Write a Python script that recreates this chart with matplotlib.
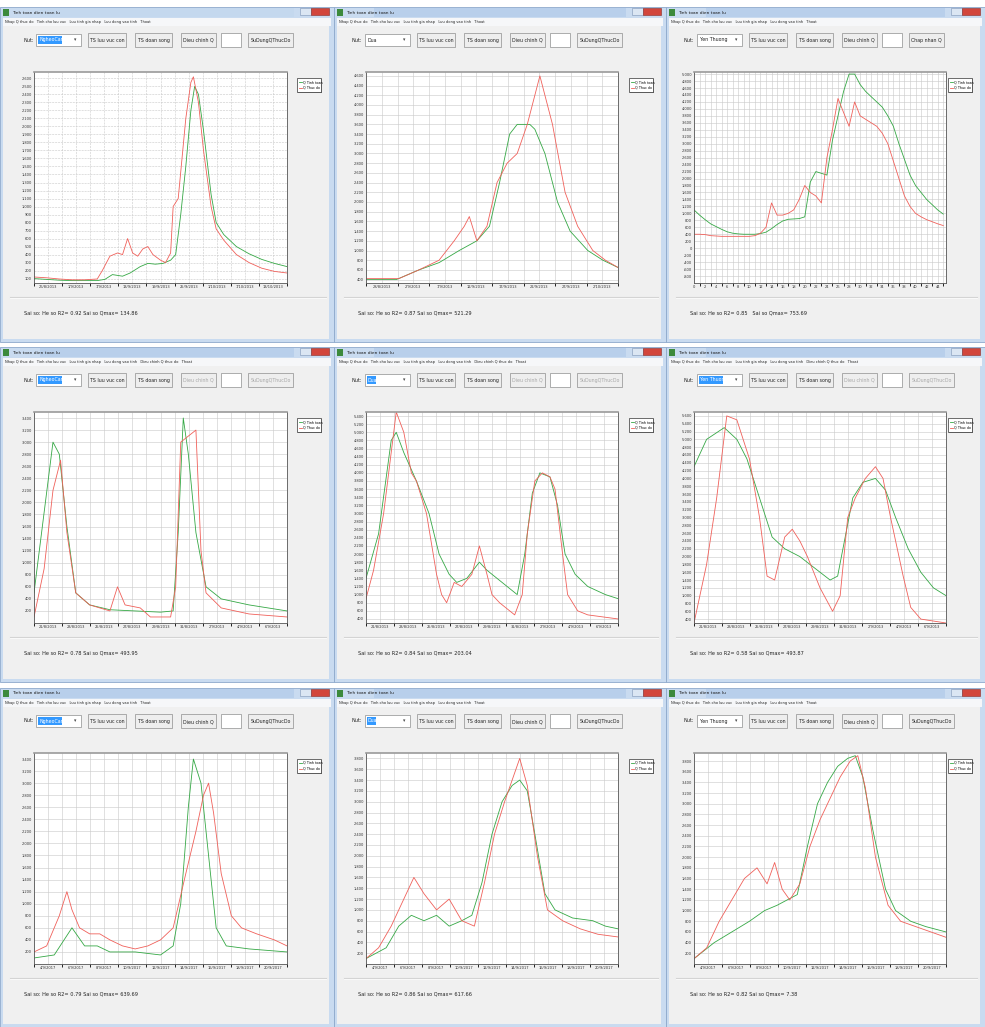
import matplotlib
matplotlib.use("Agg")
import matplotlib.pyplot as plt
from matplotlib.patches import Rectangle

W, H = 985, 1027

# ---- data: (t in % of record, Q) ----
p1_t_red = [0, 5, 10, 15, 20, 25, 27, 30, 33, 35, 37, 39, 41, 43, 45, 47, 50, 52, 54, 55, 57, 60, 62, 63, 65, 67, 70, 72, 75, 80, 85, 90, 95, 100]
p1_red = [120, 110, 95, 85, 85, 95, 200, 380, 420, 400, 600, 420, 380, 470, 500, 400, 330, 300, 420, 1000, 1100, 2100, 2550, 2620, 2300, 1700, 1000, 720, 580, 400, 300, 230, 190, 170]
p1_t_green = [0, 5, 10, 15, 20, 25, 28, 31, 35, 38, 42, 45, 48, 51, 54, 56, 58, 60, 62, 63.5, 65, 67, 70, 72, 75, 80, 85, 90, 95, 100]
p1_green = [100, 90, 80, 75, 75, 75, 90, 150, 130, 170, 250, 290, 280, 290, 330, 400, 900, 1500, 2200, 2500, 2400, 1950, 1150, 800, 650, 500, 410, 340, 290, 250]

p2_t_red = [0, 13, 21, 29, 35, 39, 41, 44, 48, 52, 56, 60, 64, 69, 74, 79, 84, 90, 95, 100]
p2_red = [420, 420, 600, 800, 1200, 1500, 1700, 1200, 1500, 2400, 2800, 3000, 3600, 4600, 3600, 2200, 1500, 1000, 800, 650]
p2_t_green = [0, 12, 21, 29, 37, 44, 49, 53, 57, 60, 65, 67, 71, 76, 81, 88, 94, 100]
p2_green = [400, 400, 600, 750, 1000, 1200, 1500, 2400, 3400, 3600, 3600, 3500, 3000, 2000, 1400, 1000, 800, 650]

p3_x = list(range(46))
p3_green = [1100, 950, 820, 700, 620, 540, 470, 430, 410, 400, 400, 400, 420, 460, 560, 680, 780, 830, 840, 850, 900, 1900,
            2200, 2150, 2100, 3100, 3800, 4500, 5000, 5000, 4700, 4500, 4350, 4200, 4050, 3800, 3500, 3000, 2550, 2100,
            1800, 1600, 1400, 1250, 1100, 980]
p3_red = [400, 400, 390, 360, 350, 340, 340, 340, 340, 340, 340, 360, 430, 600, 1300, 950, 950, 1000, 1100, 1400, 1800,
          1600, 1500, 1300, 2600, 3400, 4300, 3900, 3500, 4200, 3800, 3700, 3600, 3500, 3300, 3000, 2500, 2000, 1500,
          1200, 1000, 900, 820, 760, 700, 650]

p4_t_red = [0, 4, 7.5, 10.5, 13, 16.5, 22, 30, 33, 36, 42, 46, 54, 56, 58, 61, 64, 66, 68, 74, 85, 100]
p4_red = [100, 900, 2200, 2700, 1500, 500, 300, 200, 600, 300, 250, 100, 100, 600, 3000, 3100, 3200, 1200, 500, 250, 150, 100]
p4_t_green = [0, 3, 7.5, 10, 13, 16.5, 22, 30, 40, 50, 55, 57, 59, 61, 64, 68, 74, 85, 100]
p4_green = [500, 1500, 3000, 2800, 1600, 500, 300, 220, 200, 180, 200, 1500, 3400, 2800, 1500, 600, 400, 300, 200]

p5_t_red = [0, 3, 7, 12, 15, 18, 20, 24, 28, 30, 32, 35, 38, 42, 45, 48, 50, 53, 57, 59, 62, 64, 67, 70, 73, 75, 78, 80, 84, 88, 100]
p5_red = [900, 1600, 3000, 5500, 5000, 4000, 3800, 3000, 1500, 1000, 800, 1300, 1200, 1500, 2200, 1500, 1000, 800, 600, 500, 1000, 2500, 3800, 4000, 3900, 3600, 2000, 1000, 600, 500, 400]
p5_t_green = [0, 5, 10, 12, 15, 20, 25, 29, 33, 36, 40, 45, 48, 52, 56, 60, 63, 66, 69, 73, 76, 79, 83, 88, 95, 100]
p5_green = [1400, 2500, 4800, 5000, 4500, 3800, 3000, 2000, 1500, 1300, 1400, 1800, 1600, 1400, 1200, 1000, 2000, 3500, 4000, 3900, 3200, 2000, 1500, 1200, 1000, 900]

p6_t_red = [0, 5, 9, 13, 17, 22, 26, 29, 32, 36, 39, 42, 45, 50, 55, 58, 61, 64, 68, 72, 75, 78, 83, 86, 90, 100]
p6_red = [300, 1800, 3500, 5600, 5500, 4500, 3000, 1500, 1400, 2500, 2700, 2400, 2000, 1200, 600, 1000, 3000, 3500, 4000, 4300, 4000, 3000, 1500, 700, 400, 300]
p6_t_green = [0, 5, 12, 17, 21, 26, 31, 36, 42, 48, 54, 57, 60, 63, 67, 72, 76, 80, 85, 90, 95, 100]
p6_green = [4300, 5000, 5300, 5000, 4500, 3500, 2500, 2200, 2000, 1700, 1400, 1500, 2500, 3500, 3900, 4000, 3700, 3000, 2200, 1600, 1200, 1000]

p7_t_red = [0, 5, 10, 13, 15, 18, 22, 26, 30, 35, 40, 45, 50, 55, 60, 64, 67, 69, 71, 74, 78, 82, 88, 95, 100]
p7_red = [200, 300, 800, 1200, 900, 600, 500, 500, 400, 300, 250, 300, 400, 600, 1500, 2200, 2800, 3000, 2500, 1500, 800, 600, 500, 400, 300]
p7_t_green = [0, 8, 15, 20, 25, 30, 40, 50, 55, 58, 61, 63, 66, 69, 72, 76, 85, 100]
p7_green = [100, 150, 600, 300, 300, 200, 200, 150, 300, 1000, 2600, 3400, 3000, 1800, 600, 300, 250, 200]

p8_t_red = [0, 5, 10, 15, 19, 23, 28, 33, 38, 43, 47, 51, 55, 58, 61, 64, 68, 72, 78, 85, 92, 100]
p8_red = [100, 300, 700, 1200, 1600, 1300, 1000, 1200, 800, 700, 1500, 2400, 3000, 3400, 3800, 3300, 2000, 1000, 800, 650, 550, 500]
p8_t_green = [0, 8, 13, 18, 23, 28, 33, 38, 42, 46, 50, 54, 58, 61, 64, 67, 71, 75, 82, 90, 95, 100]
p8_green = [100, 300, 700, 900, 800, 900, 700, 800, 900, 1500, 2400, 3000, 3300, 3400, 3200, 2400, 1300, 1000, 850, 800, 700, 650]

p9_t_red = [0, 5, 10, 15, 20, 25, 29, 32, 35, 38, 42, 46, 50, 54, 58, 62, 65, 68, 72, 77, 82, 88, 94, 100]
p9_red = [100, 300, 800, 1200, 1600, 1800, 1500, 1900, 1400, 1200, 1500, 2200, 2700, 3100, 3500, 3800, 3900, 3300, 2000, 1100, 800, 700, 600, 500]
p9_t_green = [0, 8, 15, 22, 28, 33, 37, 41, 45, 49, 53, 57, 61, 64, 67, 71, 76, 80, 86, 92, 100]
p9_green = [100, 400, 600, 800, 1000, 1100, 1200, 1300, 2200, 3000, 3400, 3700, 3850, 3900, 3500, 2500, 1400, 1000, 800, 700, 600]

date_labels = [
    ["26/8/2013", "1/9/2013", "7/9/2013", "13/9/2013", "19/9/2013", "25/9/2013", "1/10/2013", "7/10/2013", "13/10/2013"],
    ["28/8/2013", "2/9/2013", "7/9/2013", "12/9/2013", "17/9/2013", "22/9/2013", "27/9/2013", "2/10/2013"],
    None,
    ["21/8/2013", "23/8/2013", "25/8/2013", "27/8/2013", "29/8/2013", "31/8/2013", "2/9/2013", "4/9/2013", "6/9/2013"],
    ["21/8/2013", "23/8/2013", "25/8/2013", "27/8/2013", "29/8/2013", "31/8/2013", "2/9/2013", "4/9/2013", "6/9/2013"],
    ["21/8/2013", "23/8/2013", "25/8/2013", "27/8/2013", "29/8/2013", "31/8/2013", "2/9/2013", "4/9/2013", "6/9/2013"],
    ["4/9/2017", "6/9/2017", "8/9/2017", "10/9/2017", "12/9/2017", "14/9/2017", "16/9/2017", "18/9/2017", "20/9/2017"],
    ["4/9/2017", "6/9/2017", "8/9/2017", "10/9/2017", "12/9/2017", "14/9/2017", "16/9/2017", "18/9/2017", "20/9/2017"],
    ["4/9/2017", "6/9/2017", "8/9/2017", "10/9/2017", "12/9/2017", "14/9/2017", "16/9/2017", "18/9/2017", "20/9/2017"],
]
stations = ["NgheoCanh", "Dua", "Yen Thuong", "NgheoCanh", "Dua", "Yen Thuong", "NgheoCanh", "Dua", "Yen Thuong"]
r2 = ["0.92", "0.87", "0.85", "0.78", "0.84", "0.58", "0.79", "0.86", "0.82"]
qmax_err = ["134.86", "521.29", "753.69", "493.95", "203.04", "493.87", "639.69", "617.66", "7.38"]
# y axis: (min, max, tick step, first tick, last tick)
yaxes = [(45, 2680, 100, 100, 2600), (330, 4680, 200, 400, 4600), (-1000, 5060, 200, -800, 5000),
         (0, 3500, 200, 200, 3400), (300, 5500, 200, 400, 5400), (300, 5700, 200, 400, 5600),
         (0, 3500, 200, 200, 3400), (0, 3900, 200, 200, 3800), (0, 3950, 200, 200, 3800)]

series = [(p1_t_red, p1_red, p1_t_green, p1_green), (p2_t_red, p2_red, p2_t_green, p2_green),
          (p3_x, p3_red, p3_x, p3_green), (p4_t_red, p4_red, p4_t_green, p4_green),
          (p5_t_red, p5_red, p5_t_green, p5_green), (p6_t_red, p6_red, p6_t_green, p6_green),
          (p7_t_red, p7_red, p7_t_green, p7_green), (p8_t_red, p8_red, p8_t_green, p8_green),
          (p9_t_red, p9_red, p9_t_green, p9_green)]

RED = "#f0605a"
GREEN = "#35a845"
FONT = "DejaVu Sans"

col_x = [0, 334, 666]
col_w = [334, 332, 319]
row_y = [1, 341, 682]
row_h = [341, 341, 345]

fig = plt.figure(figsize=(W / 100, H / 100), dpi=100)
fig.patch.set_facecolor("white")
bg = fig.add_axes([0, 0, 1, 1])
bg.set_xlim(0, W)
bg.set_ylim(H, 0)
bg.axis("off")


def px_axes(x0, y0, x1, y1):
    return fig.add_axes([x0 / W, 1 - y1 / H, (x1 - x0) / W, (y1 - y0) / H])


def button(x0, y0, x1, y1, label, enabled=True):
    bg.add_patch(Rectangle((x0, y0), x1 - x0, y1 - y0, fc="#eeeeee", ec="#8e8f8f", lw=0.5))
    bg.text((x0 + x1) / 2, (y0 + y1) / 2 + 0.5, label, fontsize=3.4, family=FONT,
            color="#222" if enabled else "#a8a8a8", ha="center", va="center")


for k in range(9):
    r, c = divmod(k, 3)
    x0, y0, w, h = col_x[c], row_y[r] + 6, col_w[c], row_h[r] - 6
    # window frame + title bar
    bg.add_patch(Rectangle((x0, y0), w, h, fc="#c9dbf0", ec="#8ea9cb", lw=0.6))
    bg.add_patch(Rectangle((x0 + 40, y0 + 1), w - 80, 9, fc="#aec8e8", ec="none", alpha=0.6 if k else 0.15))
    bg.add_patch(Rectangle((x0 + 3, y0 + 2), 6, 7, fc="#3c8a3c", ec="none"))
    bg.text(x0 + 12, y0 + 5.5, "Tinh toan dien toan lu", fontsize=3.2, family=FONT, color="#1a1a1a", va="center")
    bg.add_patch(Rectangle((x0 + w - 34, y0 + 1), 11, 7, fc="#dbe6f3", ec="#7d94b5", lw=0.4))
    bg.add_patch(Rectangle((x0 + w - 23, y0 + 1), 18, 7, fc="#d2463c", ec="#8a2a24", lw=0.4))
    # menu bar
    bg.add_patch(Rectangle((x0 + 3, y0 + 11), w - 6, 8, fc="#f6f7f9", ec="none"))
    menu = "Nhap Q thuc do   Tinh cho luu vuc   Luu tinh gia nhap   Luu dong vao tinh"
    if r == 1:
        menu += "   Dieu chinh Q thuc do"
    bg.text(x0 + 5, y0 + 15, menu + "   Thoat", fontsize=2.6, family=FONT, color="#222", va="center")
    # client area
    bg.add_patch(Rectangle((x0 + 3, y0 + 19), w - 8, h - 22, fc="#f0f0f0", ec="none"))
    # toolbar
    sx = x0 + (5 if c == 0 else 0)
    ty0, ty1 = y0 + 26, y0 + 40
    bg.text(sx + 18, y0 + 33, "Nut:", fontsize=3.6, family=FONT, color="#222", va="center")
    bg.add_patch(Rectangle((sx + 31, ty0 + 1), 45, 12, fc="white", ec="#8e8f8f", lw=0.5))
    hi = not (k in (1, 2, 8))
    if hi:
        bg.add_patch(Rectangle((sx + 33, ty0 + 3), 24 if c != 1 else 9, 8, fc="#3399ff", ec="none"))
    bg.text(sx + 34, y0 + 33, stations[k], fontsize=3.4, family=FONT, color="white" if hi else "#222", va="center")
    bg.text(sx + 70, y0 + 33, "\u25be", fontsize=3.4, family=FONT, color="#444", va="center", ha="center")
    enabled = r != 1
    button(sx + 83, ty0, sx + 121, ty1, "TS luu vuc con")
    button(sx + 130, ty0, sx + 167, ty1, "TS doan song")
    button(sx + 176, ty0, sx + 211, ty1, "Dieu chinh Q", enabled)
    bg.add_patch(Rectangle((sx + 216, ty0), 20, ty1 - ty0, fc="white", ec="#8e8f8f", lw=0.5))
    button(sx + 243, ty0, sx + 288 if k != 2 else sx + 278, ty1,
           "Chap nhan Q" if k == 2 else "SuDungQThucDo", enabled)
    # group box separator + error text
    bg.plot([x0 + 10, x0 + w - 8], [y0 + 290, y0 + 290], color="#d4d4d4", lw=0.8)
    bg.plot([x0 + 10, x0 + w - 8], [y0 + 291, y0 + 291], color="white", lw=0.5)
    gap = "   " if k == 2 else " "
    bg.text(x0 + 24, y0 + 306, "Sai so: He so R2= " + r2[k] + gap + "Sai so Qmax= " + qmax_err[k],
            fontsize=3.6, family=FONT, color="#222", va="center")

    # chart
    ax_l = x0 + (34 if c == 0 else (32 if c == 1 else 28))
    ax_r = x0 + (287 if c == 0 else (284 if c == 1 else 280))
    ax = px_axes(ax_l, y0 + 65, ax_r, y0 + 276)
    tr, qr, tg, qg = series[k]
    ymin, ymax, step, y_first, y_last = yaxes[k]
    ax.plot(tg, qg, color=GREEN, lw=0.6)
    ax.plot(tr, qr, color=RED, lw=0.6)
    ax.set_ylim(ymin, ymax)
    yt = list(range(y_first, y_last + 1, step))
    ax.set_yticks(yt)
    ax.set_yticklabels([f"{v:,}" for v in yt])
    if k == 2:
        ax.set_xlim(0, 45.5)
        ax.set_xticks(list(range(0, 45, 2)))
        ax.set_xticks(list(range(0, 46)), minor=True)
    else:
        labs = date_labels[k]
        n = len(labs)
        ax.set_xlim(0, 100)
        pos = [100 * (i + 0.5) / n for i in range(n)]
        ax.set_xticks(pos)
        ax.set_xticklabels(labs)
        ax.set_xticks([100 * i / n for i in range(n + 1)], minor=True)
    ls = "--" if k == 0 else "-"
    ax.grid(True, which="both", color="#c9c9c9", lw=0.4, ls=ls)
    ax.set_axisbelow(True)
    ax.tick_params(labelsize=2.6, length=0, pad=1.5, colors="#333")
    for s in ax.spines.values():
        s.set_color("#555555")
        s.set_linewidth(0.6)
    ax.spines["top"].set_linewidth(1.2)
    ax.spines["top"].set_color("#9a9a9a")
    ax.set_facecolor("white")

    # legend box
    lx = x0 + w - 37
    ly = y0 + 71
    bg.add_patch(Rectangle((lx + 1, ly + 1), 24, 14, fc="#777777", ec="none"))
    bg.add_patch(Rectangle((lx, ly), 24, 14, fc="white", ec="#333333", lw=0.5))
    bg.plot([lx + 2, lx + 5], [ly + 4, ly + 4], color=GREEN, lw=0.6)
    bg.plot([lx + 2, lx + 5], [ly + 9.5, ly + 9.5], color=RED, lw=0.6)
    bg.text(lx + 6, ly + 4, "Q Tinh toan", fontsize=2.4, family=FONT, va="center")
    bg.text(lx + 6, ly + 9.5, "Q Thuc do", fontsize=2.4, family=FONT, va="center")

fig.savefig("out.png", dpi=100, facecolor="white")
